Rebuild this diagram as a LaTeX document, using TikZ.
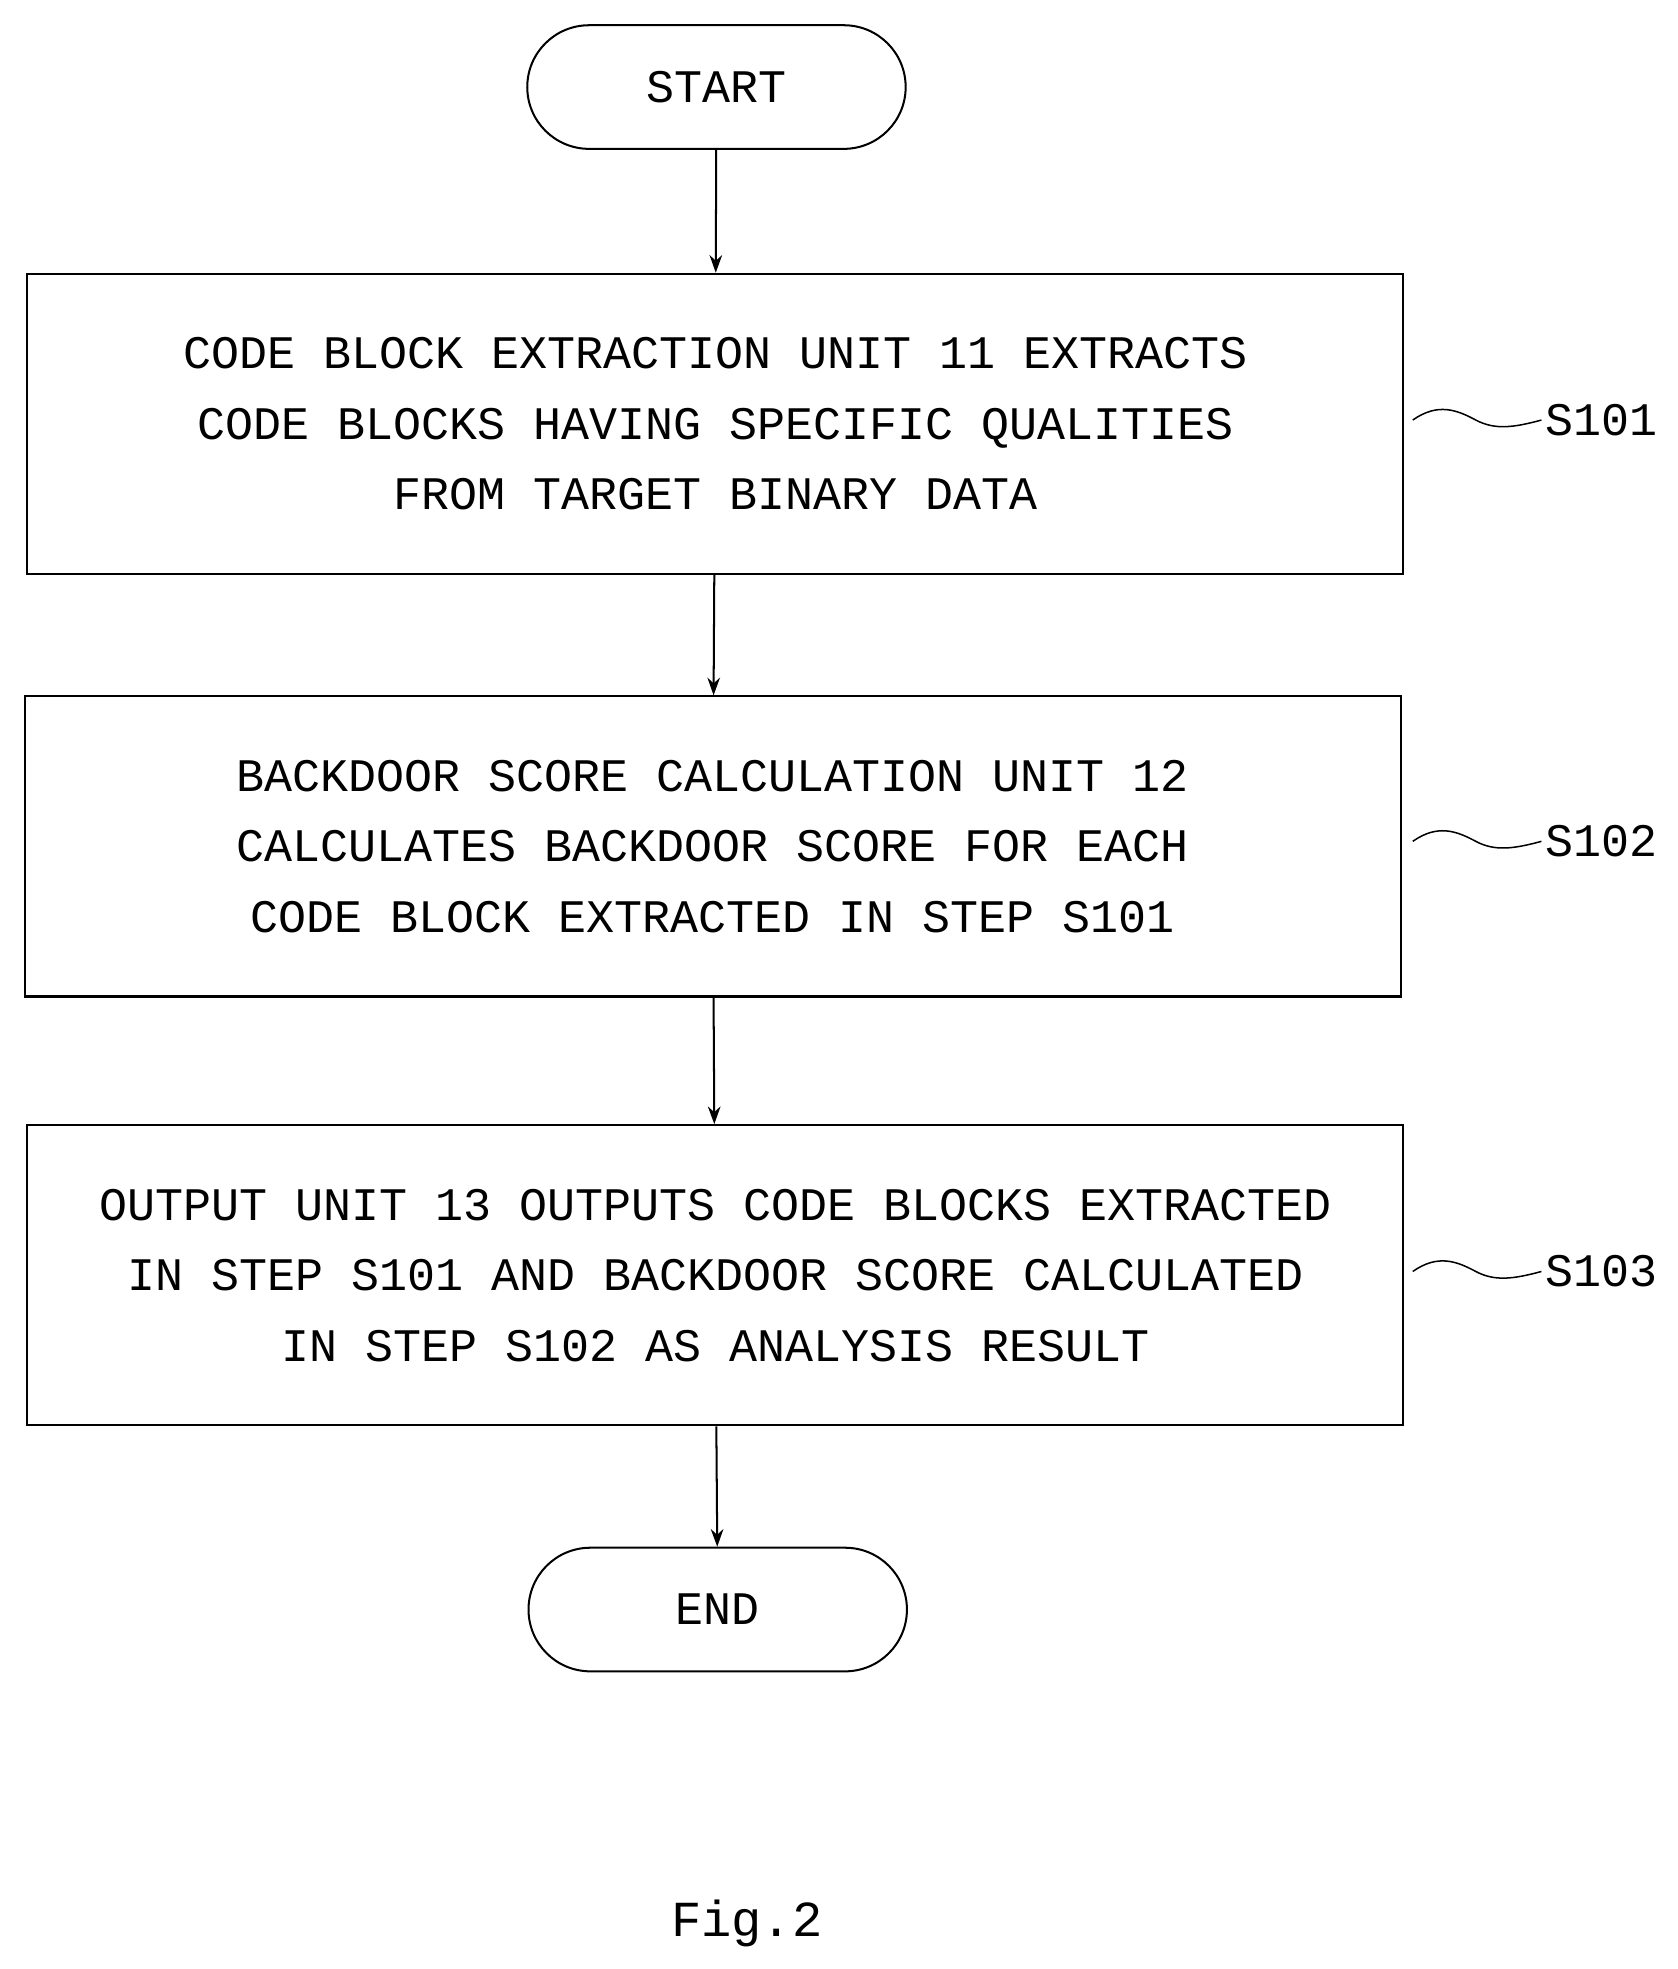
\documentclass[tikz,border=0pt]{standalone}
\usepackage{fontspec}
\setmonofont{Liberation Mono}
\usetikzlibrary{arrows.meta}
\begin{document}
\begin{tikzpicture}[x=1pt,y=-1pt,
 box/.style={draw,line width=1.6pt,minimum width=1091pt,minimum height=238pt,align=center,font=\fontsize{37}{56}\ttfamily},
 term/.style={draw,line width=1.6pt,rounded corners=49pt,minimum width=300pt,minimum height=98pt,font=\fontsize{37}{40}\ttfamily},
 arr/.style={line width=1.6pt,-{Stealth[length=14pt,width=10pt]}},
 lbl/.style={font=\fontsize{37}{40}\ttfamily,anchor=west},
 wave/.style={line width=1.2pt}]
\useasboundingbox (0,0) rectangle (1330,1561);
\node[term] (start) at (568,69) {START};
\node[box] (b1) at (567,336) {CODE BLOCK EXTRACTION UNIT 11 EXTRACTS\\CODE BLOCKS HAVING SPECIFIC QUALITIES\\FROM TARGET BINARY DATA};
\node[box] (b2) at (565,671) {BACKDOOR SCORE CALCULATION UNIT 12\\CALCULATES BACKDOOR SCORE FOR EACH\\CODE BLOCK EXTRACTED IN STEP S101};
\node[box] (b3) at (567,1011) {OUTPUT UNIT 13 OUTPUTS CODE BLOCKS EXTRACTED\\IN STEP S101 AND BACKDOOR SCORE CALCULATED\\IN STEP S102 AS ANALYSIS RESULT};
\node[term] (end) at (569,1276) {END};
\draw[arr] (start) -- (b1);
\draw[arr] (b1) -- (b2);
\draw[arr] (b2) -- (b3);
\draw[arr] (b3) -- (end);
\foreach \n/\y/\t in {s1/333/S101,s2/667/S102,s3/1008/S103}{
 \coordinate (\n w) at (1120,\y);
 \node[lbl] (\n) at (1222,\y) {\t};
 \draw[wave] (\n w) .. controls (1140,\y-14) and (1155,\y-8) .. (1170,\y) .. controls (1185,\y+8) and (1200,\y+6) .. (\n.west);
}
\node[font=\fontsize{40}{44}\ttfamily] (fig) at (592,1525) {Fig.2};
\end{tikzpicture}
\end{document}
